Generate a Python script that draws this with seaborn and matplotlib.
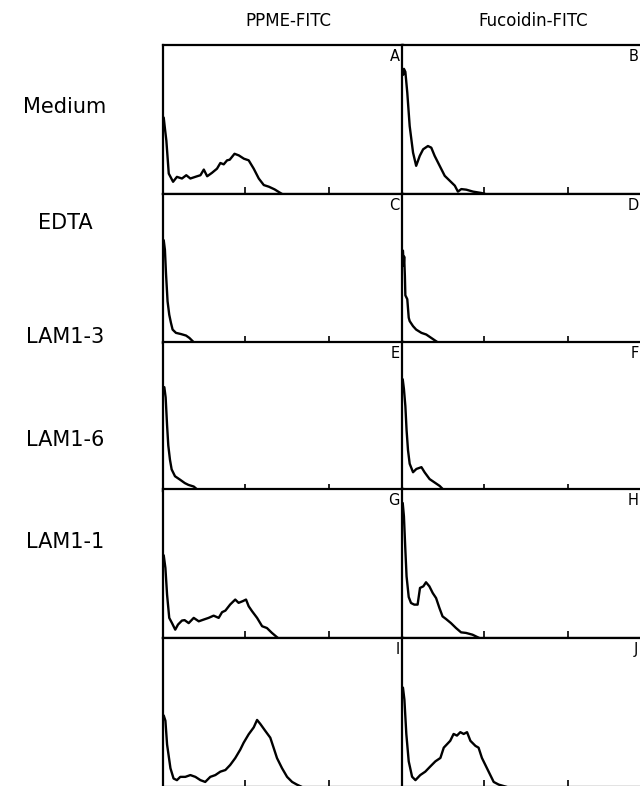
import pandas as pd
import seaborn as sns
import matplotlib.pyplot as plt

row_names = ["Medium", "EDTA", "LAM1-3", "LAM1-6", "LAM1-1"]
col_names = ["PPME-FITC", "Fucoidin-FITC"]
panel_tags = ["A", "B", "C", "D", "E", "F", "G", "H", "I", "J"]

# x: fluorescence channel (% of axis), y: relative cell number (% of panel height)
a_x = [0.3, 0.8, 1.4, 2.4, 4.2, 5.8, 7.9, 9.7, 11.4, 14.2, 15.6, 17.0, 18.4, 20.4, 22.5, 23.9,
       25.3, 26.7, 27.8, 29.8, 31.6, 33.7, 35.7, 37.8, 39.9, 42.0, 44.1, 46.5, 49.6]
a_y = [51.3, 44.0, 35.8, 13.7, 8.2, 11.5, 10.4, 12.6, 10.4, 11.9, 12.6, 16.4, 11.9, 14.2, 17.0, 20.8,
       19.9, 22.6, 23.0, 27.0, 25.9, 23.7, 22.6, 17.0, 10.4, 6.0, 4.9, 3.1, 0.0]

b_x = [0.5, 0.8, 1.4, 2.2, 3.2, 4.6, 5.9, 7.4, 8.8, 10.8, 12.2, 13.6, 15.7, 17.8, 19.9, 22.0,
       23.3, 24.7, 26.8, 29.6, 33.0, 34.7]
b_y = [80.0, 84.0, 82.0, 68.0, 45.6, 27.8, 18.9, 25.6, 30.0, 32.2, 31.1, 25.6, 18.9, 12.2, 8.9, 5.6,
       1.6, 3.3, 2.9, 1.6, 0.7, 0.0]

c_x = [0.3, 0.8, 1.25, 1.9, 2.6, 3.3, 4.0, 5.4, 7.5, 9.6, 11.0, 12.5, 13.0]
c_y = [69.0, 62.5, 46.6, 28.0, 19.0, 13.6, 9.0, 6.8, 6.0, 5.0, 3.4, 1.0, 0.0]

d_x = [0.4, 0.7, 0.9, 1.2, 1.4, 2.2, 2.8, 3.2, 4.6, 5.9, 8.1, 10.1, 12.2, 14.3, 15.3]
d_y = [62.0, 52.0, 58.0, 45.0, 32.0, 29.4, 17.0, 14.7, 11.3, 9.0, 6.8, 5.7, 3.4, 1.1, 0.0]

e_x = [0.55, 1.1, 1.7, 2.2, 2.9, 3.6, 5.0, 7.1, 9.1, 10.6, 12.8, 14.2, 14.9]
e_y = [69.7, 62.8, 44.0, 30.6, 21.0, 14.5, 9.9, 7.6, 5.3, 4.1, 3.0, 1.1, 0.0]

f_x = [0.3, 0.8, 1.4, 1.9, 2.5, 3.2, 4.6, 6.0, 8.1, 9.4, 11.5, 13.6, 15.7, 17.8]
f_y = [75.0, 68.5, 57.0, 41.0, 27.4, 18.3, 12.6, 14.8, 16.0, 12.6, 8.0, 5.7, 3.4, 0.0]

g_x = [0.3, 1.0, 1.7, 2.6, 3.75, 5.1, 6.25, 7.9, 9.0, 10.7, 12.8, 14.9, 17.0, 19.0, 21.1, 23.2,
       24.6, 26.0, 28.0, 30.1, 31.5, 33.2, 34.6, 35.7, 37.1, 39.2, 41.3, 43.3, 45.4, 47.9]
g_y = [55.5, 47.0, 29.0, 13.5, 10.0, 5.6, 9.0, 11.7, 12.0, 10.0, 13.5, 11.2, 12.4, 13.5, 15.0, 13.5,
       17.3, 18.4, 22.5, 25.8, 23.6, 24.7, 25.8, 21.3, 18.0, 13.5, 7.9, 6.7, 3.4, 0.0]

h_x = [0.3, 0.8, 1.4, 1.9, 2.8, 3.75, 5.1, 6.5, 7.5, 8.9, 10.0, 11.4, 12.8, 14.2, 15.6, 16.9,
       18.3, 20.4, 22.5, 24.6, 26.7, 29.4, 32.2]
h_y = [90.6, 81.7, 59.0, 41.4, 27.5, 23.5, 22.4, 22.4, 33.6, 34.7, 37.4, 34.7, 30.2, 26.8, 20.1, 14.5,
       12.8, 10.0, 6.7, 3.8, 3.4, 2.2, 0.0]

i_x = [0.3, 1.0, 1.7, 3.1, 4.4, 5.8, 7.2, 9.3, 11.4, 13.5, 15.6, 17.6, 19.7, 21.8, 23.9, 26.0,
       28.0, 30.1, 32.2, 33.6, 35.7, 37.8, 39.2, 40.6, 42.6, 44.7, 46.1, 47.5, 49.6, 51.7, 53.8,
       55.8, 57.9]
i_y = [48.0, 44.5, 28.5, 12.6, 5.7, 4.6, 6.8, 6.8, 8.0, 6.8, 4.6, 3.4, 6.8, 8.0, 10.3, 11.4,
       14.8, 19.4, 25.1, 29.7, 35.4, 40.0, 45.0, 42.2, 37.7, 33.1, 26.3, 19.4, 12.6, 6.8, 3.4,
       1.6, 0.0]

j_x = [0.4, 1.0, 1.8, 2.8, 4.2, 5.6, 7.6, 9.7, 11.8, 13.9, 16.0, 17.4, 18.75, 20.1, 21.5, 22.9,
       24.3, 25.7, 27.1, 28.5, 30.6, 31.9, 33.3, 34.7, 36.1, 38.2, 40.3, 43.75]
j_y = [66.7, 58.6, 35.6, 17.2, 6.9, 4.6, 8.0, 10.3, 13.8, 17.2, 19.5, 26.4, 28.7, 31.0, 35.6, 34.5,
       36.8, 35.6, 36.8, 31.0, 27.6, 26.4, 19.5, 14.9, 10.3, 3.4, 1.6, 0.0]

curves = {"A": (a_x, a_y), "B": (b_x, b_y), "C": (c_x, c_y), "D": (d_x, d_y),
          "E": (e_x, e_y), "F": (f_x, f_y), "G": (g_x, g_y), "H": (h_x, h_y),
          "I": (i_x, i_y), "J": (j_x, j_y)}

sns.set_style("white")
plt.rcParams['font.family'] = ['DejaVu Sans']
plt.rcParams['text.color'] = 'black'

W, H = 640, 786
fig = plt.figure(figsize=(W / 100, H / 100), dpi=100)

col_left = [163, 402]
col_w = 240
row_top = [45, 194, 342, 489, 638]
row_h = 149

for i, rname in enumerate(row_names):
    for j, cname in enumerate(col_names):
        tag = panel_tags[2 * i + j]
        xs, ys = curves[tag]
        ax = fig.add_axes([col_left[j] / W, 1 - (row_top[i] + row_h) / H, col_w / W, row_h / H])
        df = pd.DataFrame({"channel": xs, "count": ys})
        sns.lineplot(data=df, x="channel", y="count", ax=ax, color="black",
                     linewidth=1.7, estimator=None, sort=False)
        ax.set_xlim(0, 100)
        ax.set_ylim(0, 100)
        ax.set_xticks([34, 69])
        ax.set_yticks([])
        ax.tick_params(axis='x', direction='in', length=5, width=1.2, color='black',
                       bottom=True, labelbottom=False)
        ax.set_xlabel("")
        ax.set_ylabel("")
        for s in ax.spines.values():
            s.set_linewidth(1.6)
            s.set_color('black')
        ax.text(0.985, 0.975, tag, transform=ax.transAxes, ha='right', va='top', fontsize=10.5)

fig.text(288 / W, 1 - 21 / H, col_names[0], ha='center', va='center', fontsize=12)
fig.text(533 / W, 1 - 21 / H, col_names[1], ha='center', va='center', fontsize=12)

label_y = [107, 223, 337, 440, 542]
for name, yy in zip(row_names, label_y):
    fig.text(65 / W, 1 - yy / H, name, ha='center', va='center', fontsize=15)

fig.savefig("out.png", dpi=100)
